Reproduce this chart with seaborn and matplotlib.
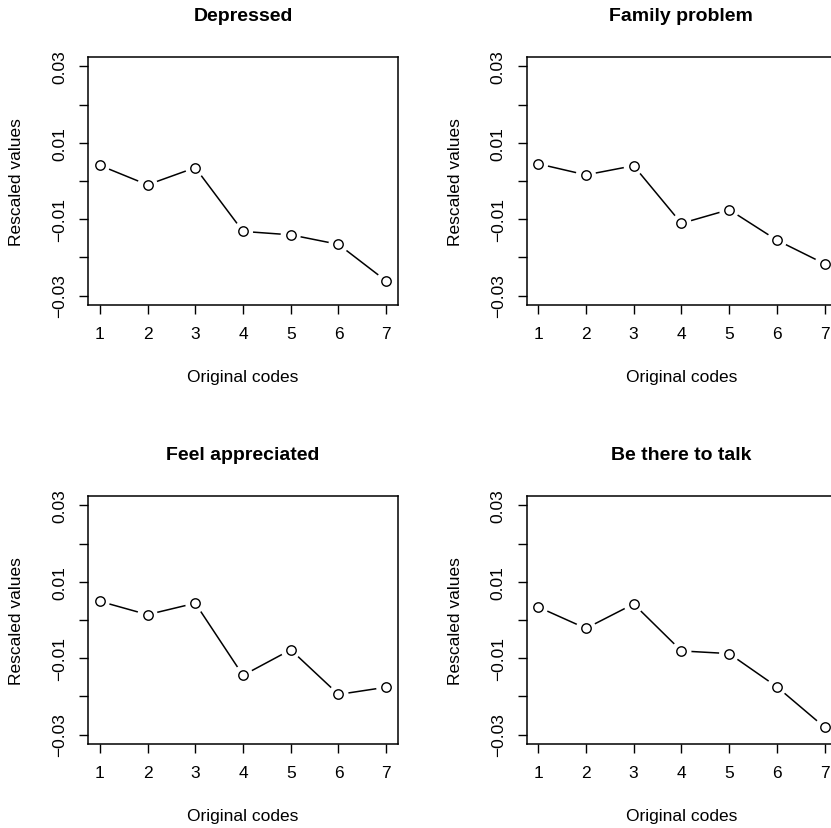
import matplotlib
matplotlib.use("Agg")
import matplotlib.pyplot as plt
import seaborn as sns
import pandas as pd

sns.set_theme(style="white")
plt.rcParams['font.family'] = ['Liberation Sans', 'DejaVu Sans']

codes = [1, 2, 3, 4, 5, 6, 7]
titles = ["Depressed", "Family problem", "Feel appreciated", "Be there to talk"]
depressed = [0.0041, -0.0010, 0.0035, -0.0132, -0.0141, -0.0166, -0.0262]
family_problem = [0.0045, 0.0016, 0.0040, -0.0111, -0.0075, -0.0155, -0.0217]
feel_appreciated = [0.0049, 0.0014, 0.0044, -0.0145, -0.0078, -0.0195, -0.0176]
be_there_to_talk = [0.0034, -0.0022, 0.0042, -0.0081, -0.0088, -0.0175, -0.0281]
series = [depressed, family_problem, feel_appreciated, be_there_to_talk]
yticks = [-0.03, -0.02, -0.01, 0.0, 0.01, 0.02, 0.03]
ytick_labels = ["\u22120.03", "", "\u22120.01", "", "0.01", "", "0.03"]

W, H = 831, 829
fig = plt.figure(figsize=(W / 100, H / 100), dpi=100)

# axes boxes in pixels: (left, top)
boxes = [(88.3, 58.3), (526.7, 58.3), (88.3, 497.3), (526.7, 497.3)]
bw, bh = 309.4, 247.4

for (lx, ty), title, vals in zip(boxes, titles, series):
    ax = fig.add_axes([lx / W, 1 - (ty + bh) / H, bw / W, bh / H])
    df = pd.DataFrame({"code": codes, "value": vals})
    sns.lineplot(data=df, x="code", y="value", ax=ax, color="black",
                 linewidth=1.1, zorder=2)
    sns.scatterplot(data=df, x="code", y="value", ax=ax, s=210,
                    color="white", edgecolor="none", linewidth=0, zorder=3)
    sns.scatterplot(data=df, x="code", y="value", ax=ax, s=46,
                    facecolor="white", edgecolor="black", linewidth=1.0,
                    zorder=4)
    ax.set_xlim(0.76, 7.24)
    ax.set_ylim(-0.0324, 0.0324)
    ax.set_xticks(codes)
    ax.set_xticklabels([str(c) for c in codes])
    ax.set_yticks(yticks)
    ax.set_yticklabels(ytick_labels, rotation=90, va="center")
    for sp in ax.spines.values():
        sp.set_visible(True)
        sp.set_color("black")
        sp.set_linewidth(1.1)
    ax.tick_params(axis="both", direction="out", length=6.5, width=1.0,
                   color="black", labelsize=12.5, labelcolor="black",
                   pad=8.5, bottom=True, left=True)
    ax.set_xlabel("Original codes", fontsize=12.5, color="black")
    ax.set_ylabel("Rescaled values", fontsize=12.5, color="black")
    ax.xaxis.label.set_va("center")
    ax.yaxis.label.set_va("center")
    ax.xaxis.set_label_coords(0.5, (305.7 - 378) / bh)
    ax.yaxis.set_label_coords((17 - 88.3) / bw, 0.5)
    ax.text(0.5, 1 + (58.3 - 17) / bh, title, transform=ax.transAxes,
            ha="center", va="center", fontsize=14, fontweight="bold",
            color="black")
    ax.grid(False)

fig.savefig("out.png", dpi=100, facecolor="white")
